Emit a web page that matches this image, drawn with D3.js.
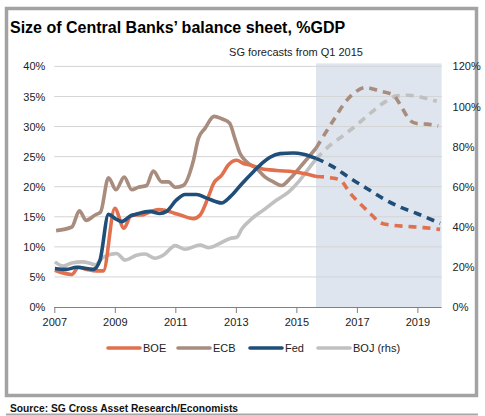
<!DOCTYPE html>
<html><head><meta charset="utf-8">
<script src="https://cdn.jsdelivr.net/npm/d3@7"></script>
<style>
html,body{margin:0;padding:0;background:#fff;}
svg{display:block;font-family:"Liberation Sans",Arial,sans-serif;}
</style></head>
<body><svg id="c" width="485" height="416"></svg>
<script>
const title = "Size of Central Banks\u2019 balance sheet, %GDP";
const subtitle = "SG forecasts from Q1 2015";
const source = "Source: SG Cross Asset Research/Economists";
const xTicks = [2007, 2009, 2011, 2013, 2015, 2017, 2019];
const leftTicks = [0, 5, 10, 15, 20, 25, 30, 35, 40];
const rightTicks = [0, 20, 40, 60, 80, 100, 120];
const forecastStart = 2015.65;
const seriesNames = ["BOE", "ECB", "Fed", "BOJ (rhs)"];

// [year, % of GDP]
const boeActual = [[2007.02,6.1],[2007.58,5.4],[2007.8,6.6],[2008.08,6.25],[2008.4,6.0],[2008.62,6.0],[2009.0,16.4],[2009.3,13.1],[2009.55,15.3],[2009.88,15.3],[2010.15,15.8],[2010.44,16.2],[2010.66,16.1],[2010.99,15.55],[2011.16,15.3],[2011.6,14.7],[2011.82,15.3],[2012.09,18.3],[2012.26,20.5],[2012.53,21.9],[2012.75,23.6],[2013.03,24.4],[2013.25,23.85],[2013.47,23.6],[2013.86,23.0],[2014.35,22.7],[2014.9,22.5],[2015.34,22.1],[2015.65,21.7]];
const boeForecast = [[2015.65,21.7],[2016.12,21.5],[2016.45,21.1],[2016.78,18.9],[2017.16,16.9],[2017.49,15.3],[2017.77,14.0],[2018.15,13.6],[2018.65,13.4],[2019.2,13.2],[2019.75,12.9]];

const ecbActual = [[2007.06,12.7],[2007.58,13.3],[2007.83,16.0],[2008.05,14.4],[2008.35,15.3],[2008.53,15.8],[2008.79,21.5],[2009.04,19.5],[2009.31,21.6],[2009.56,19.5],[2009.78,19.9],[2010.05,20.2],[2010.27,22.6],[2010.55,20.8],[2010.77,20.8],[2011.0,19.9],[2011.26,20.2],[2011.6,24.4],[2011.76,28.0],[2011.98,29.7],[2012.28,31.7],[2012.53,31.3],[2012.79,30.6],[2012.97,28.0],[2013.14,25.5],[2013.36,24.1],[2013.69,23.0],[2013.97,21.6],[2014.24,20.8],[2014.52,20.2],[2014.8,21.4],[2015.13,23.3],[2015.45,25.2],[2015.65,26.4]];
const ecbForecast = [[2015.65,26.4],[2016.22,31.0],[2016.67,34.4],[2016.94,35.7],[2017.27,36.5],[2017.76,35.9],[2018.21,35.2],[2018.48,33.2],[2018.76,31.0],[2018.98,30.5],[2019.31,30.4],[2019.69,30.1]];

const fedActual = [[2007.02,6.4],[2007.4,6.25],[2007.73,6.6],[2008.29,6.25],[2008.51,7.8],[2008.79,15.4],[2009.01,14.7],[2009.23,14.2],[2009.51,15.1],[2009.78,15.55],[2010.16,15.9],[2010.49,15.55],[2010.71,15.9],[2011.04,17.8],[2011.32,18.7],[2011.7,18.7],[2012.04,18.1],[2012.53,17.3],[2012.81,18.3],[2013.2,20.5],[2013.58,22.5],[2013.91,24.1],[2014.13,24.9],[2014.46,25.5],[2014.9,25.6],[2015.23,25.4],[2015.65,24.7]];
const fedForecast = [[2015.65,24.7],[2016.22,23.3],[2016.72,21.6],[2017.33,19.7],[2017.88,18.0],[2018.43,16.6],[2018.98,15.55],[2019.75,13.9]];

// BOJ on right-hand scale (0-120%)
const bojActual = [[2007.02,22.5],[2007.3,20.4],[2007.58,22.0],[2007.91,22.5],[2008.18,21.8],[2008.35,21.0],[2008.62,24.8],[2009.06,26.7],[2009.34,23.4],[2009.72,25.8],[2010.0,26.4],[2010.33,24.3],[2010.6,25.8],[2011.0,30.6],[2011.32,28.8],[2011.82,30.9],[2012.09,29.6],[2012.48,31.8],[2012.81,34.2],[2013.03,34.8],[2013.2,39.0],[2013.53,44.1],[2013.91,48.3],[2014.35,53.4],[2014.74,57.3],[2015.07,62.4],[2015.45,69.9],[2015.65,73.8]];
const bojForecast = [[2015.65,73.8],[2016.12,80.7],[2016.55,85.5],[2017.05,91.5],[2017.49,97.2],[2017.93,102.3],[2018.32,105.3],[2018.7,105.6],[2019.2,104.4],[2019.64,102.6]];

const colors = {BOE:"#E0704E", ECB:"#A88C7E", Fed:"#1F4E79", BOJ:"#C0C0C0"};

const svg = d3.select("#c");
const W = 485, H = 416;
const plot = {l:54.3, r:441.6, t:66.4, b:307};

// frame
svg.append("rect").attr("x",0).attr("y",0).attr("width",W).attr("height",H).attr("fill","#fff");
svg.append("rect").attr("x",6.5).attr("y",8.5).attr("width",470).attr("height",387)
  .attr("fill","#fff").attr("stroke","#a3a3a3").attr("stroke-width",3.5);
svg.append("line").attr("x1",6).attr("x2",478).attr("y1",414.5).attr("y2",414.5)
  .attr("stroke","#a8a8a8").attr("stroke-width",2);

// titles
svg.append("text").attr("x",10).attr("y",33).attr("font-size",16).attr("font-weight","bold")
  .attr("fill","#000").text(title);
svg.append("text").attr("x",296).attr("y",56).attr("text-anchor","middle").attr("font-size",11)
  .attr("fill","#222").text(subtitle);

const x = d3.scaleLinear().domain([2007, 2019.8]).range([plot.l, plot.r]);
const yL = d3.scaleLinear().domain([0, 40]).range([plot.b, plot.t]);
const yR = d3.scaleLinear().domain([0, 120]).range([plot.b, plot.t]);

// forecast shade
svg.append("rect").attr("x", x(forecastStart)).attr("y", plot.t - 3)
  .attr("width", x(2019.8) - x(forecastStart)).attr("height", plot.b - plot.t + 3)
  .attr("fill","#dee5ee");

// gridlines
svg.append("g").selectAll("line").data(leftTicks.filter(d=>d>0)).join("line")
  .attr("x1",plot.l).attr("x2",plot.r).attr("y1",d=>yL(d)).attr("y2",d=>yL(d))
  .attr("stroke","#d4d4d4").attr("stroke-width",1);

// axes
const fmtPct = d => d + "%";
const gL = svg.append("g").attr("transform",`translate(${plot.l - 7},0)`)
  .call(d3.axisLeft(yL).tickValues(leftTicks).tickFormat(fmtPct).tickSize(0).tickPadding(2));
const gR = svg.append("g").attr("transform",`translate(${plot.r + 9},0)`)
  .call(d3.axisRight(yR).tickValues(rightTicks).tickFormat(fmtPct).tickSize(0).tickPadding(2));
const gX = svg.append("g").attr("transform",`translate(0,${plot.b})`)
  .call(d3.axisBottom(x).tickValues(xTicks).tickFormat(d3.format("d")).tickSize(6).tickPadding(5));
[gL,gR].forEach(g=>{ g.select(".domain").remove(); });
gX.select(".domain").attr("stroke","#808080").attr("d",`M${plot.l},0.5H${plot.r}`);
gX.selectAll(".tick line").attr("stroke","#808080");
[gL,gR,gX].forEach(g=>{
  g.selectAll("text").attr("font-size",11).attr("fill","#222")
   .attr("font-family","'Liberation Sans',Arial,sans-serif");
});

// lines
const lineL = d3.line().x(d=>x(d[0])).y(d=>yL(d[1])).curve(d3.curveMonotoneX);
const lineR = d3.line().x(d=>x(d[0])).y(d=>yR(d[1])).curve(d3.curveMonotoneX);
const drawSeries = (data, gen, color, dashed) => {
  svg.append("path").datum(data).attr("d", gen).attr("fill","none")
    .attr("stroke", color).attr("stroke-width", 3.6)
    .attr("stroke-linejoin","round")
    .attr("stroke-dasharray", dashed ? "8,6" : null);
};
drawSeries(bojActual, lineR, colors.BOJ, false);
drawSeries(bojForecast, lineR, colors.BOJ, true);
drawSeries(ecbActual, lineL, colors.ECB, false);
drawSeries(ecbForecast, lineL, colors.ECB, true);
drawSeries(boeActual, lineL, colors.BOE, false);
drawSeries(boeForecast, lineL, colors.BOE, true);
drawSeries(fedActual, lineL, colors.Fed, false);
drawSeries(fedForecast, lineL, colors.Fed, true);

// legend
const legendX = [108, 178, 250, 318];
const legendColors = [colors.BOE, colors.ECB, colors.Fed, colors.BOJ];
const lg = svg.append("g");
seriesNames.forEach((n,i)=>{
  lg.append("line").attr("x1",legendX[i]).attr("x2",legendX[i]+32).attr("y1",348).attr("y2",348)
    .attr("stroke",legendColors[i]).attr("stroke-width",3.6).attr("stroke-linecap","round");
  lg.append("text").attr("x",legendX[i]+35).attr("y",352).attr("font-size",11).attr("fill","#222").text(n);
});

svg.append("text").attr("x",10).attr("y",411.5).attr("font-size",11).attr("font-weight","bold")
  .attr("fill","#111").attr("textLength",228).attr("lengthAdjust","spacingAndGlyphs").text(source);
</script></body></html>
